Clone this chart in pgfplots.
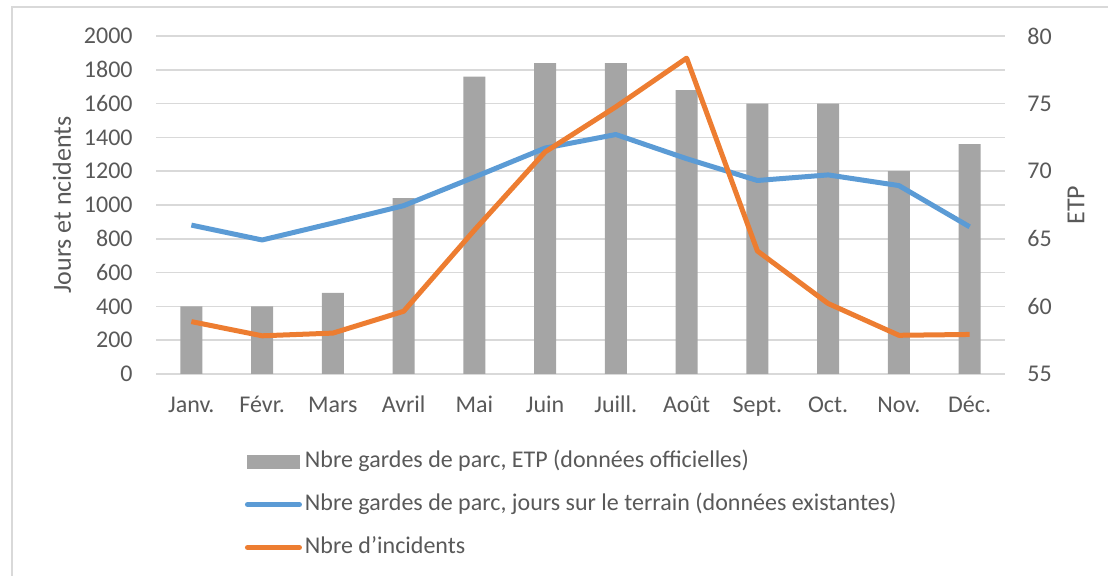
\documentclass[border=0pt]{standalone}
\usepackage{pgfplots}
\usepackage{pgfplotstable}
\pgfplotsset{compat=1.18}
\usepackage{fontspec}
\setmainfont{Carlito}
\definecolor{barc}{HTML}{A5A5A5}
\definecolor{bluec}{HTML}{5B9BD5}
\definecolor{orangec}{HTML}{ED7D31}
\definecolor{gridc}{HTML}{D9D9D9}
\definecolor{txt}{HTML}{595959}
\definecolor{framec}{HTML}{D9D9D9}

\pgfplotstableread{
x etp jours inc
0 60 881 310
1 60 793 226
2 61 893 242
3 68 996 371
4 77 1165 851
5 78 1337 1314
6 78 1417 1581
7 76 1274 1869
8 75 1145 728
9 75 1178 417
10 70 1115 229
11 72 871 234
}\data

\pgfplotsset{
  base/.style={
    width=424.5bp, height=169bp, scale only axis,
    at={(78bp,101bp)}, anchor=south west,
    xmin=-0.5, xmax=11.5,
    axis line style={draw=none},
    major tick length=0pt,
    tick label style={font=\fontsize{12bp}{14bp}\selectfont, text=txt},
    /pgf/number format/assume math mode=true,
    /pgf/number format/1000 sep={},
    scaled ticks=false,
  }
}

\begin{document}
\begin{tikzpicture}[font=\fontsize{12bp}{14bp}\selectfont]
\path[use as bounding box] (0,0) rectangle (554bp,288bp);
\draw[framec, line width=0.75bp] (6bp,0) -- (6bp,284.5bp) -- (554bp,284.5bp);

% right axis with bars (ETP)
\begin{axis}[base,
  ymin=55, ymax=80,
  ytick={55,57.5,60,62.5,65,67.5,70,72.5,75,77.5,80},
  yticklabels={55,,60,,65,,70,,75,,80},
  axis y line*=right,
  ymajorgrids, grid style={gridc, line width=0.75bp},
  yticklabel style={anchor=west, inner sep=0pt, xshift=11bp},
  xtick={0,...,11},
  xticklabels={Janv.,Févr.,Mars,Avril,Mai,Juin,Juill.,Août,Sept.,Oct.,Nov.,Déc.},
  xticklabel style={anchor=base, yshift=-19.5bp},
  ylabel={ETP},
  every axis y label/.style={at={(axis description cs:1.0836,0.5)}, rotate=90, anchor=center,
    font=\fontsize{13bp}{15bp}\selectfont, text=txt},
]
\addplot[ybar, bar width=11bp, fill=barc, draw=none] table[x=x, y=etp]{\data};
\end{axis}

% left axis with lines
\begin{axis}[base,
  ymin=0, ymax=2000,
  ytick={0,200,...,2000},
  axis y line*=left,
  xtick=\empty,
  yticklabel style={anchor=east, inner sep=0pt, xshift=-11.5bp},
  ylabel={Jours et ncidents},
  every axis y label/.style={at={(axis description cs:-0.1107,0.5)}, rotate=90, anchor=center,
    font=\fontsize{13bp}{15bp}\selectfont, text=txt},
  legend image code/.code={\draw[line cap=round] (0bp,0bp) -- (26bp,0bp);},
  legend cell align=left,
  legend style={at={(axis description cs:0.1048,-0.225)}, anchor=north west,
    draw=none, fill=none, inner sep=0pt, outer sep=0pt,
    row sep=10bp, column sep=1.5bp,
    font=\fontsize{12bp}{14bp}\selectfont, text=txt,
    nodes={inner sep=0pt, text height=8.6bp, text depth=2.9bp, anchor=west}},
]
\addlegendimage{legend image code/.code={\fill[barc] (0bp,-3.3bp) rectangle (26bp,3.3bp);}}
\addlegendentry{Nbre gardes de parc, ETP (données officielles)}
\addplot[bluec, line width=2.5bp, line join=round] table[x=x, y=jours]{\data};
\addlegendentry{Nbre gardes de parc, jours sur le terrain (données existantes)}
\addplot[orangec, line width=2.5bp, line join=round] table[x=x, y=inc]{\data};
\addlegendentry{Nbre d’incidents}
\end{axis}
\end{tikzpicture}
\end{document}
